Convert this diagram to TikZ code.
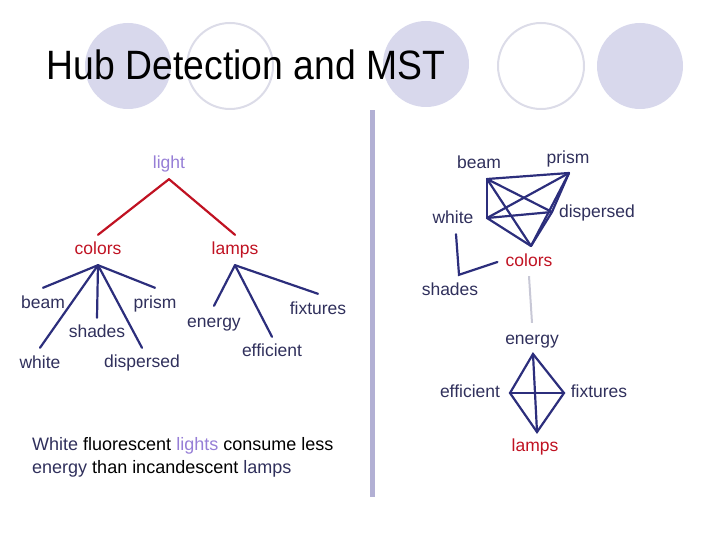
\documentclass[tikz,border=0pt]{standalone}
\usepackage{fontspec}
\setmainfont{Liberation Sans}
\definecolor{inknavy}{RGB}{48,48,92}
\definecolor{linenavy}{RGB}{44,46,124}
\definecolor{hubred}{RGB}{192,18,34}
\definecolor{lightpurple}{RGB}{150,126,214}
\definecolor{dotfill}{RGB}{216,216,236}
\definecolor{dotring}{RGB}{220,220,232}
\definecolor{barpurple}{RGB}{178,176,212}
\definecolor{paleline}{RGB}{200,200,214}
\tikzset{
  word/.style={font=\fontsize{17.5}{20}\selectfont, text=inknavy, inner sep=0pt,
    text height=12.5pt, text depth=3.5pt},
  hubword/.style={word, text=hubred},
  rootword/.style={word, text=lightpurple},
  navyline/.style={draw=linenavy, line width=2.2pt, line cap=round},
  redline/.style={draw=hubred, line width=2.2pt, line cap=round},
}
\begin{document}
\begin{tikzpicture}[x=1pt,y=-1pt]
	\useasboundingbox (0,0) rectangle (720,540);
	% background dots
	\fill[dotfill] (128,66) circle (43pt);
	\draw[dotring,line width=2pt] (230,66) circle (43pt);
	\fill[dotfill] (426,64) circle (43pt);
	\draw[dotring,line width=2pt] (541,66) circle (43pt);
	\fill[dotfill] (640,66) circle (43pt);
	% title
	\node[font=\fontsize{41}{44}\selectfont, inner sep=0pt, xscale=0.91] (title) at (246,65) {Hub Detection and MST};
	% separator
	\fill[barpurple] (370,110) rectangle (375,497);
	%
	% left: hierarchy
	\node[rootword] (light) at (169,164) {light};
	\node[hubword] (colors) at (98,250) {colors};
	\node[hubword] (lamps) at (235,250) {lamps};
	\node[word] (beam) at (43,304) {beam};
	\node[word] (prism) at (155,304) {prism};
	\node[word] (shades) at (97,333) {shades};
	\node[word] (white) at (40,364) {white};
	\node[word] (dispersed) at (142,363) {dispersed};
	\node[word] (energy) at (214,323) {energy};
	\node[word] (efficient) at (272,352) {efficient};
	\node[word] (fixtures) at (318,310) {fixtures};
	% light to colors and lamps
	\draw[redline] ([yshift=-7pt]light.south) -- ([yshift=7pt]colors.north);
	\draw[redline] ([yshift=-7pt]light.south) -- ([yshift=7pt]lamps.north);
	% colors subtree
	\draw[navyline] ([yshift=-7pt]colors.south) -- ([yshift=8pt]beam.north);
	\draw[navyline] ([yshift=-7pt]colors.south) -- ([yshift=8pt]white.north);
	\draw[navyline] ([yshift=-7pt]colors.south) -- ([yshift=7pt]shades.north);
	\draw[navyline] ([yshift=-7pt]colors.south) -- ([yshift=7pt]dispersed.north);
	\draw[navyline] ([yshift=-7pt]colors.south) -- ([yshift=8pt]prism.north);
	% lamps subtree
	\draw[navyline] ([yshift=-7pt]lamps.south) -- ([yshift=9pt]energy.north);
	\draw[navyline] ([yshift=-7pt]lamps.south) -- ([yshift=7pt]efficient.north);
	\draw[navyline] ([yshift=-7pt]lamps.south) -- ([yshift=8pt]fixtures.north);
	%
	% right: hubs and spanning tree
	\node[word] (rbeam) at (479,164) {beam};
	\node[word] (rprism) at (568,159) {prism};
	\node[word] (rwhite) at (453,219) {white};
	\node[word] (rdispersed) at (597,213) {dispersed};
	\node[hubword] (rcolors) at (529,262) {colors};
	\node[word] (rshades) at (450,291) {shades};
	\node[word] (renergy) at (532,340) {energy};
	\node[word] (refficient) at (470,393) {efficient};
	\node[word] (rfixtures) at (599,393) {fixtures};
	\node[hubword] (rlamps) at (535,447) {lamps};
	% colors hub
	\coordinate (vbeam) at (487,179);
	\coordinate (vprism) at (569,173);
	\coordinate (vwhite) at (487,218);
	\coordinate (vdispersed) at (552,212);
	\coordinate (vcolors) at (531,246);
	\draw[navyline] (vbeam) -- (vprism);
	\draw[navyline] (vbeam) -- (vwhite);
	\draw[navyline] (vbeam) -- (vdispersed);
	\draw[navyline] (vbeam) -- (vcolors);
	\draw[navyline] (vwhite) -- (vprism);
	\draw[navyline] (vwhite) -- (vdispersed);
	\draw[navyline] (vwhite) -- (vcolors);
	\draw[navyline] (vprism) -- (vdispersed);
	\draw[navyline] (vprism) -- (vcolors);
	\draw[navyline] (vdispersed) -- (vcolors);
	% white -- shades -- colors
	\draw[navyline] ([shift={(3pt,-7pt)}]rwhite.south) -- ([shift={(9pt,8pt)}]rshades.north) -- ([xshift=-8pt]rcolors.west);
	% colors -- energy
	\draw[paleline, line width=2pt] ([yshift=-6pt]rcolors.south) -- ([yshift=9pt]renergy.north);
	% lamps hub
	\coordinate (venergy) at (533,354);
	\coordinate (vefficient) at (510,393);
	\coordinate (vfixtures) at (564,393);
	\coordinate (vlamps) at (537,432);
	\draw[navyline] (venergy) -- (vefficient) -- (vlamps) -- (vfixtures) -- cycle;
	\draw[navyline] (venergy) -- (vlamps);
	\draw[navyline] (vefficient) -- (vfixtures);
	%
	% sentence
	\node[font=\fontsize{18}{23}\selectfont, align=left, anchor=north west, inner sep=0pt] (sentence) at (32,437)
	  {\textcolor{inknavy}{White} fluorescent \textcolor{lightpurple}{lights} consume less\\
	   \textcolor{inknavy}{energy} than incandescent \textcolor{inknavy}{lamps}};
\end{tikzpicture}
\end{document}
